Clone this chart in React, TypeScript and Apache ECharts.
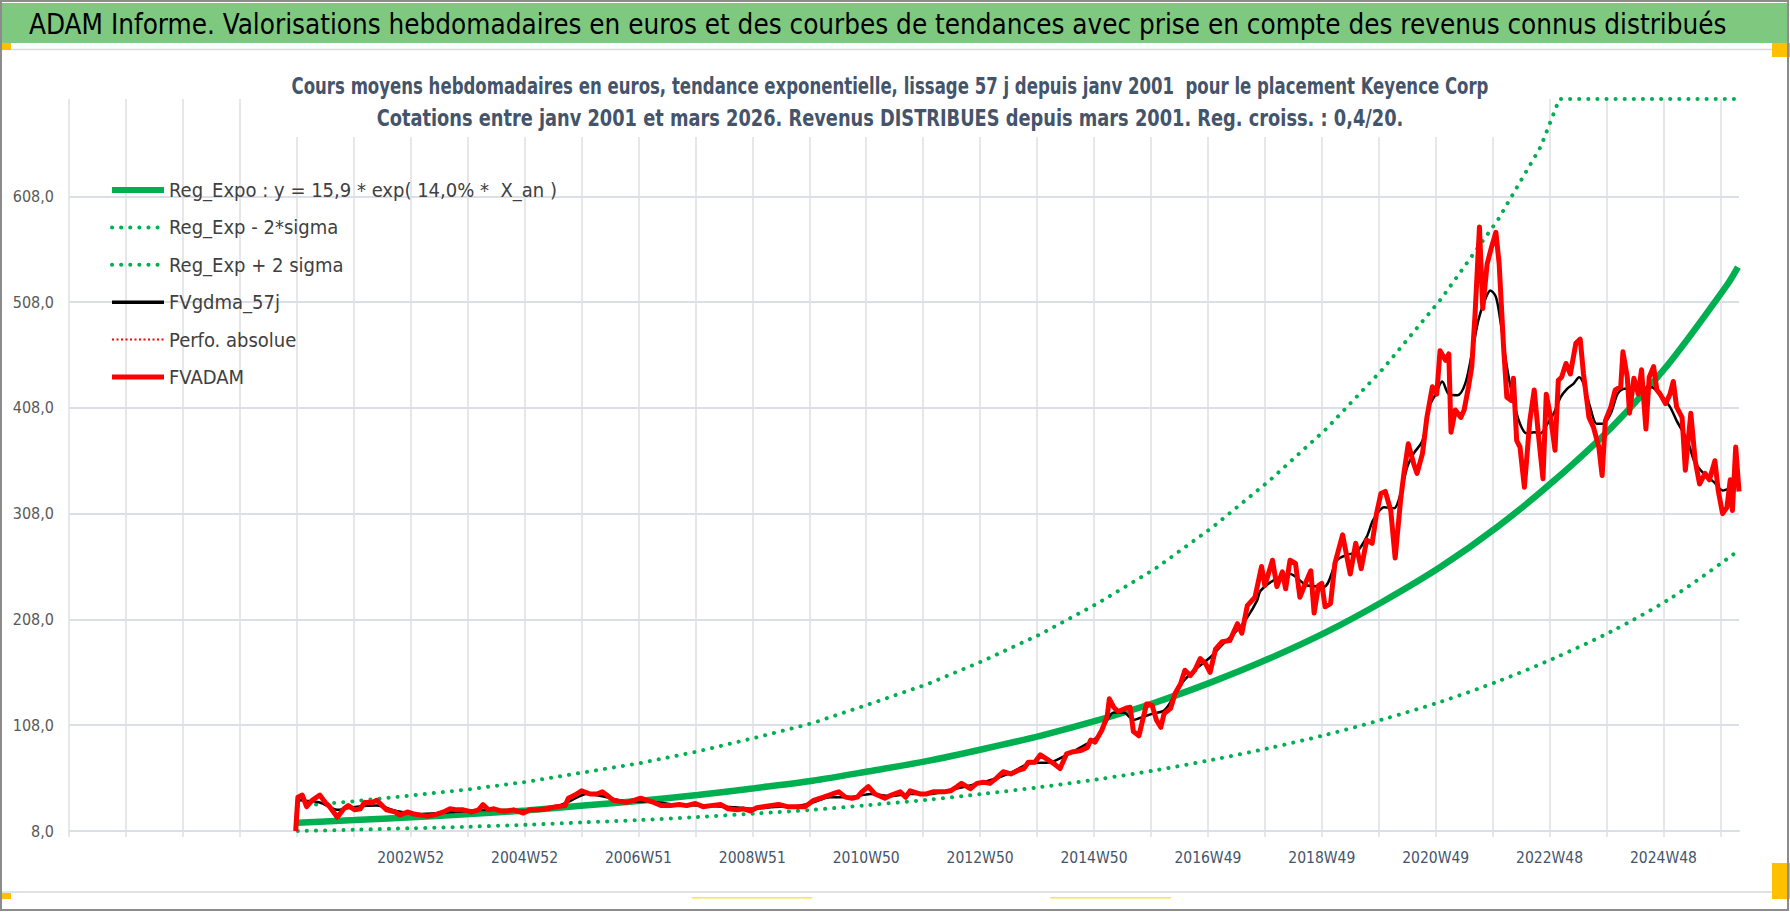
import React, { useEffect, useRef } from 'react';
import * as echarts from 'echarts';

const NARROW = "'DejaVu Sans Condensed', 'Liberation Sans Narrow', 'Liberation Sans', sans-serif";

// Category axis: one slot per week (blank slots before 2001 as in the source sheet)
const N_WEEKS = 1526;
const TICK_FIRST = 312;
const TICK_STEP = 104;
const TICK_LABELS = ['2002W52', '2004W52', '2006W51', '2008W51', '2010W50', '2012W50', '2014W50', '2016W49', '2018W49', '2020W49', '2022W48', '2024W48'];

const HEADER = 'ADAM Informe. Valorisations hebdomadaires en euros et des courbes de tendances avec prise en compte des revenus connus distribués';
const SUBTITLE_1 = 'Cours moyens hebdomadaires en euros, tendance exponentielle, lissage 57 j depuis janv 2001  pour le placement Keyence Corp';
const SUBTITLE_2 = 'Cotations entre janv 2001 et mars 2026. Revenus DISTRIBUES depuis mars 2001. Reg. croiss. : 0,4/20.';

const NAME_REG = 'Reg_Expo : y = 15,9 * exp( 14,0% *  X_an )';
const NAME_LOW = 'Reg_Exp - 2*sigma';
const NAME_UP = 'Reg_Exp + 2 sigma';
const NAME_GDMA = 'FVgdma_57j';
const NAME_PERF = 'Perfo. absolue';
const NAME_ADAM = 'FVADAM';

const REG_WEEK = [209, 261, 313, 366, 418, 470, 522, 574, 626, 679, 731, 783, 835, 887, 939, 992, 1044, 1096, 1148, 1200, 1253, 1305, 1357, 1409, 1461, 1514, 1524];
const REG_VALUE = [15.9, 18.3, 21.0, 24.0, 27.5, 32.0, 36.5, 42.0, 48.5, 55.5, 64.5, 74.0, 85.5, 98.0, 112.5, 129.5, 149, 171, 196, 225, 258, 296, 340, 390, 450, 524, 541];
const LOW_VALUE = [8.0, 9.2, 10.6, 12.1, 13.9, 16.2, 18.4, 21.2, 24.5, 28.0, 32.6, 37.4, 43.2, 49.5, 56.8, 65.4, 75.3, 86.4, 99.0, 113.6, 130.3, 149.5, 171.7, 197, 227, 265, 273];
const UP_WEEK = [209, 261, 313, 366, 418, 470, 522, 574, 626, 679, 731, 783, 835, 887, 939, 992, 1044, 1096, 1148, 1200, 1253, 1305, 1344, 1361, 1409, 1461, 1514, 1524];
const UP_VALUE = [31.5, 36.2, 41.6, 47.5, 54.5, 63.4, 72.3, 83.2, 96, 110, 128, 146.5, 169, 194, 223, 256, 295, 339, 388, 445, 511, 586, 655, 700, 700, 700, 700, 700];

// FVADAM weekly valuation (week slot, value)
const FVADAM: [number, number][] = [
  [207, 8], [209, 40], [213, 42], [217, 31], [222, 37], [229, 42], [234, 35], [238, 31], [245, 21], [251, 29], [255, 32], [261, 28], [266, 29], [270, 35], [277, 35], [281, 37], [286, 32], [290, 28], [298, 26], [302, 23], [309, 26], [315, 24], [321, 23], [328, 22], [336, 24], [342, 26], [348, 29], [354, 28], [360, 28], [368, 26], [374, 28], [378, 33], [383, 28], [388, 29], [394, 27], [400, 27], [406, 28], [415, 25], [421, 28], [429, 28], [436, 29], [445, 31], [453, 32], [456, 39], [462, 42], [468, 46], [476, 43], [482, 43], [487, 45], [491, 42], [497, 37], [503, 36], [509, 35], [516, 37], [522, 39], [528, 37], [534, 35], [541, 32], [549, 32], [557, 33], [564, 32], [572, 34], [579, 31], [586, 32], [595, 33], [602, 29], [610, 28], [616, 29], [622, 27], [628, 30], [634, 31], [640, 32], [648, 33], [656, 31],
  [665, 31], [672, 31], [680, 37], [689, 40], [697, 43], [703, 45], [709, 40], [715, 39], [720, 40], [724, 45], [730, 50], [736, 43], [745, 39], [751, 42], [759, 45], [764, 40], [768, 46], [777, 43], [783, 43], [789, 45], [799, 45], [805, 46], [811, 50], [815, 53], [823, 48], [829, 53], [835, 54], [841, 53], [847, 58], [853, 64], [860, 62], [866, 65], [872, 67], [876, 73], [882, 73], [887, 80], [893, 76], [899, 72], [905, 67], [911, 81], [917, 83], [924, 84], [930, 87], [933, 94], [937, 92], [943, 103], [948, 116], [950, 133], [954, 125], [958, 121], [965, 124], [969, 125], [972, 102], [977, 98], [980, 111], [984, 128], [989, 127], [993, 113], [997, 106], [1000, 119], [1006, 124], [1010, 138], [1015, 147], [1019, 160], [1024, 155], [1028, 160], [1033, 171], [1038, 166], [1042, 158], [1047, 180], [1053, 187], [1060, 188], [1067, 204], [1071, 195],
  [1076, 221], [1083, 229], [1089, 258], [1092, 240], [1099, 264], [1103, 239], [1108, 253], [1111, 237], [1115, 264], [1120, 261], [1124, 229], [1129, 242], [1134, 254], [1137, 214], [1141, 240], [1144, 242], [1147, 220], [1152, 223], [1156, 261], [1163, 288], [1170, 251], [1175, 280], [1180, 256], [1185, 283], [1190, 280], [1194, 308], [1198, 327], [1202, 329], [1207, 311], [1211, 266], [1216, 321], [1219, 346], [1223, 374], [1228, 355], [1231, 346], [1236, 365], [1240, 399], [1245, 428], [1249, 421], [1252, 462], [1257, 453], [1260, 459], [1262, 385], [1266, 406], [1271, 399], [1274, 406], [1278, 428], [1281, 447], [1284, 497], [1288, 579], [1291, 502], [1295, 544], [1299, 560], [1303, 574], [1306, 544], [1310, 466], [1313, 418], [1317, 415], [1319, 436], [1322, 377], [1325, 371], [1329, 333], [1334, 396], [1338, 425], [1342, 381], [1346, 341], [1349, 421], [1353, 399], [1357, 368], [1360, 434], [1363, 437], [1367, 450], [1371, 440], [1376, 469], [1380, 473], [1383, 440], [1388, 399], [1392, 390], [1397, 371], [1400, 344], [1403, 396], [1408, 409], [1412, 425], [1417, 428], [1419, 461], [1423, 437], [1425, 403], [1429, 436], [1433, 421], [1436, 444], [1440, 388], [1443, 437], [1447, 447], [1450, 425], [1453, 421], [1458, 412], [1462, 421], [1465, 433], [1468, 409], [1473, 399], [1476, 349], [1481, 403], [1485, 358], [1489, 336], [1494, 346], [1498, 340], [1503, 358], [1506, 330], [1510, 308], [1514, 314], [1517, 340], [1519, 311], [1522, 371], [1525, 329],
];

// FVgdma_57j smoothed valuation (week slot, value)
const FVGDMA: [number, number][] = [
  [209, 38], [211, 37], [229, 35], [245, 28], [263, 31], [281, 32], [299, 27], [318, 24], [339, 25], [363, 27], [388, 28], [412, 27], [436, 28], [455, 35], [473, 43], [491, 40], [509, 36], [528, 36], [552, 33], [576, 32], [601, 31], [625, 29], [649, 31], [659, 31], [677, 34], [695, 40], [713, 40], [732, 43], [750, 41], [768, 43], [787, 43], [805, 47], [823, 51], [841, 56], [860, 63], [878, 72], [896, 73], [911, 80], [927, 89], [939, 97], [948, 113], [954, 120], [963, 120], [972, 113], [981, 116], [990, 119], [1000, 122], [1009, 135], [1018, 150], [1030, 162], [1042, 172], [1054, 185], [1067, 198], [1076, 210], [1085, 226], [1088, 235], [1100, 245], [1115, 251], [1131, 240], [1146, 239], [1158, 264], [1167, 269], [1176, 272], [1185, 286], [1191, 302], [1201, 314], [1210, 313], [1216, 327], [1222, 352], [1228, 365], [1236, 377], [1242, 409], [1248, 421], [1254, 433], [1260, 421], [1268, 420], [1275, 431], [1281, 459], [1287, 491], [1293, 510], [1298, 519], [1303, 513], [1307, 491], [1313, 447], [1319, 415], [1325, 393], [1331, 384], [1338, 385], [1344, 384], [1350, 393], [1356, 403], [1362, 418], [1368, 426], [1374, 431], [1379, 437], [1383, 431], [1389, 409], [1395, 393], [1401, 393], [1408, 403], [1414, 421], [1420, 426], [1426, 426], [1435, 425], [1444, 428], [1453, 421], [1462, 409], [1468, 396], [1478, 377], [1484, 358], [1490, 349], [1496, 343], [1502, 338], [1510, 330], [1516, 332], [1523, 336],
];

const Y_MIN = 8;
const Y_MAX = 700;
const Y_STEP = 100;

const GREEN = '#00b050';
const RED = '#ff0000';
const GRID = '#dcdfe5';
const DOTS: number[] = [0.1, 9];

function pairs(w: number[], v: number[]): [number, number][] {
  return w.map((x, i) => [x, v[i]]);
}

export default function App() {
  const ref = useRef<HTMLDivElement>(null);
  useEffect(() => {
    const el = ref.current;
    if (!el) return;
    const chart = echarts.init(el, null, { renderer: 'svg' });
    const categories: string[] = Array.from({ length: N_WEEKS }, () => '');
    TICK_LABELS.forEach((t, j) => { categories[TICK_FIRST + j * TICK_STEP] = t; });
    const subFont = `bold 23px ${NARROW}`;

    chart.setOption({
      animation: false,
      backgroundColor: '#ffffff',
      legend: {
        show: true,
        orient: 'vertical',
        left: 109,
        top: 180,
        padding: 0,
        itemWidth: 52,
        itemHeight: 14,
        itemGap: 17.4,
        selectedMode: false,
        itemStyle: { opacity: 0 },
        textStyle: { fontFamily: NARROW, fontSize: 20, color: '#404040', lineHeight: 20 },
        data: [
          { name: NAME_REG, lineStyle: { width: 6 } },
          { name: NAME_LOW, lineStyle: { width: 4 } },
          { name: NAME_UP, lineStyle: { width: 4 } },
          { name: NAME_GDMA, lineStyle: { width: 3.5 } },
          { name: NAME_PERF, lineStyle: { width: 2 } },
          { name: NAME_ADAM, lineStyle: { width: 5 } },
        ],
      },
      grid: { left: 69, right: 51, top: 99, bottom: 81, containLabel: false },
      xAxis: {
        type: 'category',
        data: categories,
        boundaryGap: false,
        axisLine: { show: true, lineStyle: { color: GRID, width: 2 } },
        axisTick: { show: true, interval: 51, length: 6, lineStyle: { color: GRID, width: 1.5 } },
        splitLine: { show: true, interval: 51, lineStyle: { color: GRID, width: 1.5 } },
        axisLabel: { interval: TICK_STEP - 1, margin: 19, fontFamily: NARROW, fontSize: 15.5, color: '#44546a' },
      },
      yAxis: {
        type: 'value',
        min: Y_MIN,
        max: Y_MAX,
        interval: Y_STEP,
        axisLine: { show: false },
        axisTick: { show: false },
        splitLine: { show: true, showMaxLine: false, lineStyle: { color: GRID, width: 2 } },
        axisLabel: {
          margin: 15,
          fontFamily: NARROW,
          fontSize: 16,
          color: '#595959',
          showMaxLabel: false,
          formatter: (v: number) => ((v - Y_MIN) % Y_STEP === 0 ? v.toFixed(1).replace('.', ',') : ''),
        },
      },
      series: [
        { name: NAME_REG, type: 'line', data: pairs(REG_WEEK, REG_VALUE), symbol: 'none', smooth: 0.3, lineStyle: { color: GREEN, width: 6.5 }, itemStyle: { color: GREEN }, z: 3 },
        { name: NAME_LOW, type: 'line', data: pairs(REG_WEEK, LOW_VALUE), symbol: 'none', smooth: 0.3, lineStyle: { color: GREEN, width: 4, type: DOTS, cap: 'round' }, itemStyle: { color: GREEN }, z: 2 },
        { name: NAME_UP, type: 'line', data: pairs(UP_WEEK, UP_VALUE), symbol: 'none', lineStyle: { color: GREEN, width: 4, type: DOTS, cap: 'round' }, itemStyle: { color: GREEN }, z: 2 },
        { name: NAME_GDMA, type: 'line', data: FVGDMA, symbol: 'none', smooth: 0.3, lineStyle: { color: '#000000', width: 2.5 }, itemStyle: { color: '#000000' }, z: 4 },
        { name: NAME_PERF, type: 'line', data: [], symbol: 'none', lineStyle: { color: RED, width: 2, type: [2, 2.5] }, itemStyle: { color: RED }, z: 4 },
        { name: NAME_ADAM, type: 'line', data: FVADAM, symbol: 'none', lineStyle: { color: RED, width: 5, join: 'round' }, itemStyle: { color: RED }, z: 5 },
      ],
      graphic: [
        { type: 'rect', z: 20, shape: { x: 2, y: 3, width: 1786, height: 40 }, style: { fill: '#7ec87f' }, silent: true },
        { type: 'text', z: 21, x: 29, y: 24, style: { text: HEADER, font: `27.6px ${NARROW}`, fill: '#000000', verticalAlign: 'middle' }, silent: true },
        { type: 'rect', z: 10, shape: { x: 283, y: 58, width: 1214, height: 79 }, style: { fill: '#ffffff' }, silent: true },
        { type: 'text', z: 11, x: 890, y: 86, scaleX: 0.8, style: { text: SUBTITLE_1, font: subFont, fill: '#44546a', align: 'center', verticalAlign: 'middle' }, silent: true },
        { type: 'text', z: 11, x: 890, y: 118, scaleX: 0.86, style: { text: SUBTITLE_2, font: subFont, fill: '#44546a', align: 'center', verticalAlign: 'middle' }, silent: true },
        { type: 'line', z: 20, shape: { x1: 0, y1: 49.5, x2: 1790, y2: 49.5 }, style: { stroke: '#d9d9d9', lineWidth: 1.5 }, silent: true },
        { type: 'line', z: 20, shape: { x1: 0, y1: 892, x2: 1790, y2: 892 }, style: { stroke: '#d9d9d9', lineWidth: 1.5 }, silent: true },
        { type: 'rect', z: 21, shape: { x: 0, y: 43, width: 11, height: 7 }, style: { fill: '#ffc000' }, silent: true },
        { type: 'rect', z: 21, shape: { x: 1772, y: 43, width: 18, height: 14 }, style: { fill: '#ffc000' }, silent: true },
        { type: 'rect', z: 21, shape: { x: 0, y: 893, width: 11, height: 6 }, style: { fill: '#ffc000' }, silent: true },
        { type: 'rect', z: 21, shape: { x: 1772, y: 863, width: 18, height: 36 }, style: { fill: '#ffc000' }, silent: true },
        { type: 'rect', z: 21, shape: { x: 692, y: 897, width: 120, height: 1.5 }, style: { fill: '#f7e84a' }, silent: true },
        { type: 'rect', z: 21, shape: { x: 1050, y: 897, width: 121, height: 1.5 }, style: { fill: '#f7e84a' }, silent: true },
        { type: 'rect', z: 22, shape: { x: 1, y: 1, width: 1787, height: 909 }, style: { fill: 'none', stroke: '#8c8c8c', lineWidth: 2 }, silent: true },
      ],
    });
    return () => chart.dispose();
  }, []);
  return <div ref={ref} style={{ position: 'absolute', left: 0, top: 0, width: 1790, height: 912, background: '#ffffff' }} />;
}
